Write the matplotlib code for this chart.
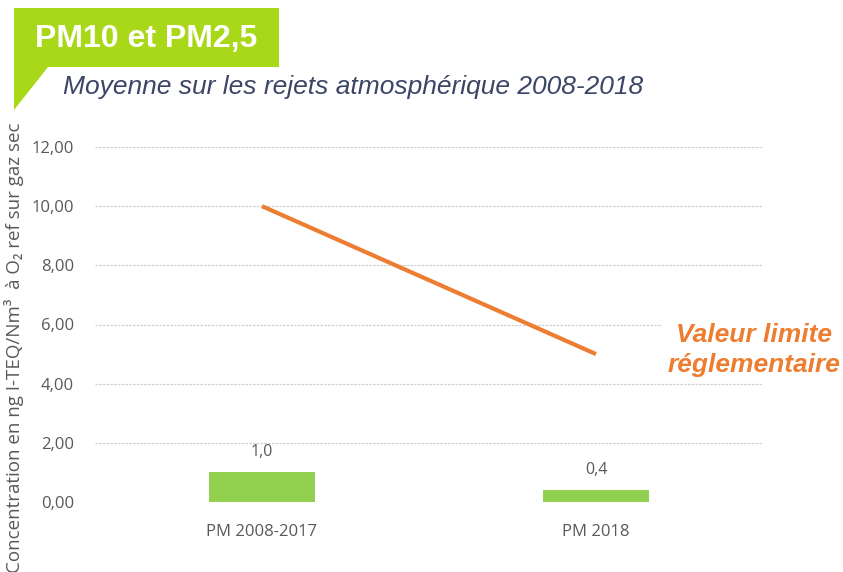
import matplotlib
matplotlib.use("Agg")
import matplotlib.pyplot as plt
from matplotlib.patches import Polygon

categories = ["PM 2008-2017", "PM 2018"]
concentrations = [1.0, 0.4]
bar_labels = ["1,0", "0,4"]
limit_values = [10.0, 5.0]
y_ticks = [0, 2, 4, 6, 8, 10, 12]
y_tick_labels = ["0,00", "2,00", "4,00", "6,00", "8,00", "10,00", "12,00"]

green = "#a8d818"
bar_green = "#92d050"
orange = "#ed7d31"
gray = "#595959"

fig = plt.figure(figsize=(8.43, 5.72), dpi=100)
W, H = 843, 572

# banner
def px(x, y):
    return (x / W, 1 - y / H)

banner = Polygon([px(14, 8), px(279, 8), px(279, 67), px(48, 67), px(14, 110)],
                 closed=True, transform=fig.transFigure, facecolor=green,
                 edgecolor="none")
fig.patches.append(banner)
fig.text(146 / W, 1 - 39 / H, "PM10 et PM2,5", color="white", fontsize=23,
         fontweight="bold", family="Liberation Sans", ha="center", va="center")
fig.text(63 / W, 1 - 87 / H, "Moyenne sur les rejets atmosphérique 2008-2018",
         color="#3b4566", fontsize=19, style="italic", family="Liberation Sans",
         ha="left", va="center")

ax = fig.add_axes([95 / W, 70 / H, 668 / W, 355 / H])
x = range(len(categories))
ax.bar(x, concentrations, width=0.32, color=bar_green, zorder=2)
ax.plot(x, limit_values, color=orange, linewidth=3, zorder=3,
        solid_capstyle="butt")
for xi, v, lab in zip(x, concentrations, bar_labels):
    ax.text(xi, v + 0.42, lab, ha="center", va="bottom", color=gray,
            fontsize=11.5, family="Open Sans")

ax.set_xlim(-0.5, 1.5)
ax.set_ylim(0, 12)
ax.set_yticks(y_ticks)
ax.set_yticklabels(y_tick_labels, family="Open Sans", fontsize=12, color=gray)
ax.set_xticks(list(x))
ax.set_xticklabels(categories, family="Open Sans", fontsize=12, color=gray)
ax.tick_params(length=0)
ax.tick_params(axis="y", pad=15)
ax.tick_params(axis="x", pad=16)
ax.grid(axis="y", color="#d0d0d0", linewidth=0.9, linestyle=(0, (2, 1)), zorder=0)
for s in ax.spines.values():
    s.set_visible(False)

fig.text(14 / W, 1 - 348 / H,
         "Concentration en ng I-TEQ/Nm³  à O₂ ref sur gaz sec",
         rotation=90, ha="center", va="center", color=gray, fontsize=13.5,
         family=["Open Sans", "DejaVu Sans"])

fig.text(754 / W, 1 - 350 / H, "Valeur limite\nréglementaire", color=orange,
         fontsize=19, fontweight="bold", style="italic", family="Liberation Sans",
         ha="center", va="center", linespacing=1.35,
         bbox=dict(facecolor="white", edgecolor="none", pad=4))

fig.savefig("out.png", dpi=100)
